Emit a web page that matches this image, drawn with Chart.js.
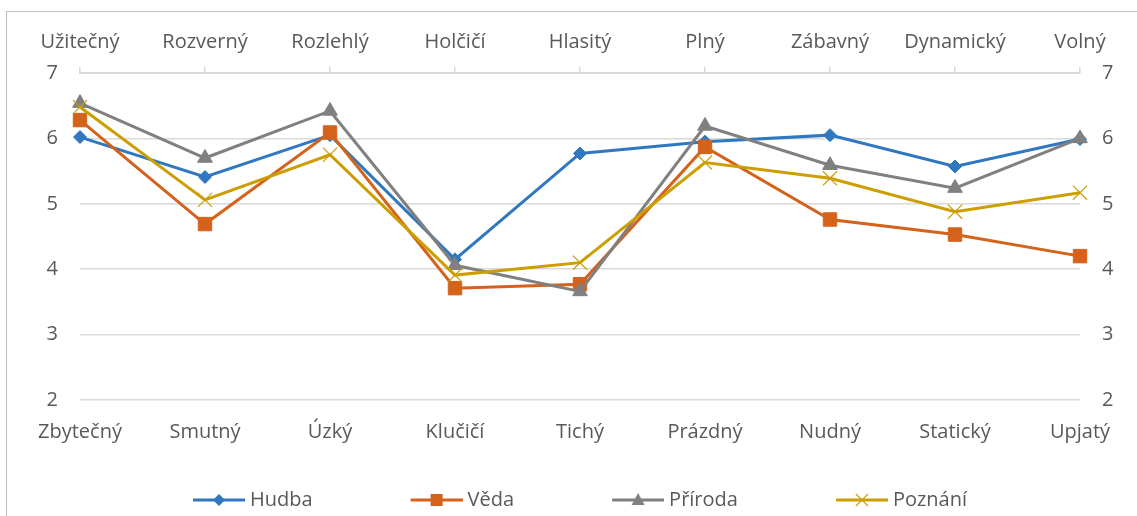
<!DOCTYPE html>
<html>
<head>
<meta charset="utf-8">
<script src="https://cdn.jsdelivr.net/npm/chart.js@4/dist/chart.umd.min.js"></script>
<style>
    html, body { margin: 0; padding: 0; background: #fff; overflow: hidden; }
    #wrap { position: relative; width: 1137px; height: 516px; }
    #frame { position: absolute; left: 6px; top: 11px; width: 1300px; height: 700px; border: 1px solid #bfbfbf; box-sizing: border-box; }
    canvas { position: absolute; left: 0; top: 0; }
</style>
</head>
<body>
<div id="wrap">
    <div id="frame"></div>
    <canvas id="chart" width="1137" height="516"></canvas>
</div>
<script>
// popisky os (nahoře a dole)
var topLabels = ['Užitečný', 'Rozverný', 'Rozlehlý', 'Holčičí', 'Hlasitý', 'Plný', 'Zábavný', 'Dynamický', 'Volný'];
var bottomLabels = ['Zbytečný', 'Smutný', 'Úzký', 'Klučičí', 'Tichý', 'Prázdný', 'Nudný', 'Statický', 'Upjatý'];
var yTicks = [2, 3, 4, 5, 6, 7];

// hodnoty řad
var hudba = [6.02, 5.41, 6.05, 4.15, 5.77, 5.95, 6.05, 5.57, 5.99];
var veda = [6.28, 4.69, 6.09, 3.71, 3.77, 5.87, 4.76, 4.53, 4.20];
var priroda = [6.54, 5.70, 6.42, 4.06, 3.66, 6.19, 5.59, 5.24, 6.00];
var poznani = [6.48, 5.06, 5.75, 3.91, 4.10, 5.63, 5.39, 4.88, 5.17];

var FONT = "'Open Sans', sans-serif";
var TEXT = '#595959';
var GRID = '#d9d9d9';

var C_HUDBA = '#2f78c0';
var C_VEDA = '#d5621b';
var C_PRIRODA = '#808080';
var C_POZNANI = '#cc9e00';

// legenda: šířka boxu a obrázku (mezera vlevo je součástí obrázku)
var LEG_BOX = 135;
var LEG_IMG = 145;

// ikona legendy: čára + značka
function legendIcon(color, style) {
    var c = document.createElement('canvas');
    c.width = LEG_IMG; c.height = 18;
    var g = c.getContext('2d');
    g.strokeStyle = color; g.fillStyle = color;
    g.lineWidth = 3;
    var x0 = LEG_IMG - 52;
    g.beginPath(); g.moveTo(x0, 9); g.lineTo(LEG_IMG, 9); g.stroke();
    var x = x0 + 26, y = 9;
    g.beginPath();
    if (style === 'diamond') {
        g.moveTo(x, y - 6); g.lineTo(x + 6, y); g.lineTo(x, y + 6); g.lineTo(x - 6, y); g.closePath(); g.fill();
    } else if (style === 'square') {
        g.fillRect(x - 6, y - 6, 12, 12);
    } else if (style === 'triangle') {
        g.moveTo(x, y - 7); g.lineTo(x + 6.5, y + 5); g.lineTo(x - 6.5, y + 5); g.closePath(); g.fill();
    } else {
        g.lineWidth = 1.2;
        g.moveTo(x - 6, y - 6); g.lineTo(x + 6, y + 6);
        g.moveTo(x + 6, y - 6); g.lineTo(x - 6, y + 6); g.stroke();
    }
    return c;
}

var icons = [
    legendIcon(C_HUDBA, 'diamond'),
    legendIcon(C_VEDA, 'square'),
    legendIcon(C_PRIRODA, 'triangle'),
    legendIcon(C_POZNANI, 'cross')
];

function series(label, data, color, style, radius, order) {
    return {
        label: label,
        data: data,
        borderColor: color,
        backgroundColor: color,
        borderWidth: 3,
        pointStyle: style,
        pointRadius: radius,
        pointHoverRadius: radius,
        pointBorderWidth: style === 'crossRot' ? 1.2 : 1,
        pointBorderColor: color,
        pointBackgroundColor: color,
        tension: 0,
        clip: false,
        order: order
    };
}

// posun legendy jako v originále
var legendShift = {
    id: 'legendShift',
    afterLayout: function (chart) {
        if (chart.legend) {
            chart.legend.left = 95;
        }
    }
};

var ctx = document.getElementById('chart').getContext('2d');
new Chart(ctx, {
    type: 'line',
    data: {
        labels: bottomLabels,
        datasets: [
            series('Hudba', hudba, C_HUDBA, 'rectRot', 6.5, 4),
            series('Věda', veda, C_VEDA, 'rect', 9.5, 3),
            series('Příroda', priroda, C_PRIRODA, 'triangle', 8.5, 2),
            series('Poznání', poznani, C_POZNANI, 'crossRot', 10, 1)
        ]
    },
    plugins: [legendShift],
    options: {
        responsive: false,
        animation: false,
        layout: { padding: { left: 0, right: 0, top: 0, bottom: -4 } },
        plugins: {
            tooltip: { enabled: false },
            legend: {
                position: 'bottom',
                align: 'start',
                labels: {
                    usePointStyle: true,
                    pointStyleWidth: LEG_BOX,
                    padding: 10,
                    color: TEXT,
                    font: { family: FONT, size: 20 },
                    generateLabels: function (chart) {
                        var items = Chart.defaults.plugins.legend.labels.generateLabels(chart);
                        items.sort(function (a, b) { return a.datasetIndex - b.datasetIndex; });
                        items.forEach(function (it) {
                            it.pointStyle = icons[it.datasetIndex];
                            it.rotation = 0;
                        });
                        return items;
                    }
                }
            }
        },
        scales: {
            x: {
                type: 'category',
                position: 'bottom',
                offset: false,
                grid: { display: false, drawTicks: false },
                border: { display: false },
                ticks: { color: TEXT, font: { family: FONT, size: 20 }, padding: 20, maxRotation: 0, autoSkip: false },
                afterFit: function (s) { s.height = 80; }
            },
            x2: {
                type: 'category',
                position: 'top',
                labels: topLabels,
                offset: false,
                grid: { drawOnChartArea: false, drawTicks: true, tickLength: 6, color: GRID, lineWidth: 1.5 },
                border: { display: true, color: GRID, width: 2 },
                ticks: { color: TEXT, font: { family: FONT, size: 20 }, padding: 13, maxRotation: 0, autoSkip: false },
                afterFit: function (s) { s.height = 73; }
            },
            y: {
                type: 'linear',
                position: 'left',
                min: 2,
                max: 7,
                afterBuildTicks: function (s) { s.ticks = yTicks.map(function (v) { return { value: v }; }); },
                grid: { color: GRID, lineWidth: 1.5, drawTicks: false },
                border: { display: false },
                ticks: { color: TEXT, font: { family: FONT, size: 20 }, padding: 22 },
                afterFit: function (s) { s.width = 80; }
            },
            y2: {
                type: 'linear',
                position: 'right',
                min: 2,
                max: 7,
                afterBuildTicks: function (s) { s.ticks = yTicks.map(function (v) { return { value: v }; }); },
                grid: { display: false, drawTicks: false },
                border: { display: false },
                ticks: { color: TEXT, font: { family: FONT, size: 20 }, padding: 22 },
                afterFit: function (s) { s.width = 57; }
            }
        }
    }
});
</script>
</body>
</html>
